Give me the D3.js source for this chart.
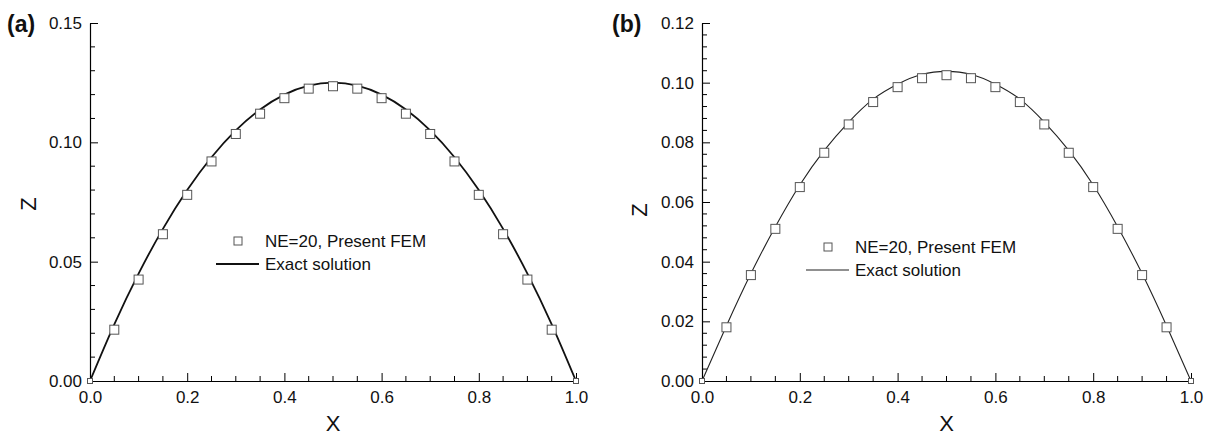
<!DOCTYPE html>
<html>
<head>
<meta charset="utf-8">
<script src="https://cdn.jsdelivr.net/npm/d3@7"></script>
<style>
  html, body { margin: 0; padding: 0; background: #fff; }
  svg { display: block; font-family: Arial, "Liberation Sans", sans-serif; }
</style>
</head>
<body>
<svg id="chart" width="1216" height="436"></svg>
<script>
// Nodal positions (shared by both panels)
const xNodes = [0, 0.05, 0.1, 0.15, 0.2, 0.25, 0.3, 0.35, 0.4, 0.45, 0.5,
                0.55, 0.6, 0.65, 0.7, 0.75, 0.8, 0.85, 0.9, 0.95, 1.0];

// Panel (a): FEM nodal deflection and exact curve
const femA   = [0, 0.0215, 0.0425, 0.0615, 0.0780, 0.0920, 0.1035, 0.1120, 0.1185, 0.1225, 0.1235,
                0.1225, 0.1185, 0.1120, 0.1035, 0.0920, 0.0780, 0.0615, 0.0425, 0.0215, 0];
const exactA = [0, 0.02375, 0.0450, 0.06375, 0.0800, 0.09375, 0.1050, 0.11375, 0.1200, 0.12375, 0.1250,
                0.12375, 0.1200, 0.11375, 0.1050, 0.09375, 0.0800, 0.06375, 0.0450, 0.02375, 0];

// Panel (b): FEM nodal deflection and exact curve
const femB   = [0, 0.0180, 0.0355, 0.0510, 0.0650, 0.0765, 0.0860, 0.0935, 0.0985, 0.1015, 0.1025,
                0.1015, 0.0985, 0.0935, 0.0860, 0.0765, 0.0650, 0.0510, 0.0355, 0.0180, 0];
const exactB = [0, 0.0185, 0.0360, 0.0517, 0.0657, 0.0773, 0.0868, 0.0945, 0.0995, 0.1028, 0.1038,
                0.1028, 0.0995, 0.0945, 0.0868, 0.0773, 0.0657, 0.0517, 0.0360, 0.0185, 0];

// Axis ticks
const xMajorTicks = [0, 0.2, 0.4, 0.6, 0.8, 1.0];
const xTickLabels = ["0.0", "0.2", "0.4", "0.6", "0.8", "1.0"];
const yMajorTicksA = [0, 0.05, 0.10, 0.15];
const yTickLabelsA = ["0.00", "0.05", "0.10", "0.15"];
const yMajorTicksB = [0, 0.02, 0.04, 0.06, 0.08, 0.10, 0.12];
const yTickLabelsB = ["0.00", "0.02", "0.04", "0.06", "0.08", "0.10", "0.12"];

const legendLabels = ["NE=20, Present FEM", "Exact solution"];

const svg = d3.select("#chart");

function panel(cfg) {
  const x = d3.scaleLinear().domain([0, 1]).range([cfg.left, cfg.right]);
  const y = d3.scaleLinear().domain([0, cfg.yMax]).range([cfg.bottom, cfg.top]);
  const g = svg.append("g");

  // minor ticks
  const xMinor = d3.range(0, 1.0001, 0.05).filter(v => !xMajorTicks.some(m => Math.abs(m - v) < 1e-6));
  const yMinor = d3.range(0, cfg.yMax + 1e-9, cfg.yMinorStep).filter(v => !cfg.yMajor.some(m => Math.abs(m - v) < 1e-6));

  // x axis (ticks point inward)
  const xAxis = d3.axisBottom(x).tickValues(xMajorTicks).tickSize(-8).tickSizeOuter(0)
    .tickFormat((d, i) => xTickLabels[i]);
  const gx = g.append("g").attr("transform", `translate(0,${cfg.bottom})`).call(xAxis);
  gx.selectAll("text").attr("dy", "0").attr("y", 22).style("font-size", "17px").attr("fill", "#111");
  gx.append("g").selectAll("line").data(xMinor).join("line")
    .attr("x1", d => x(d)).attr("x2", d => x(d)).attr("y1", 0).attr("y2", -5)
    .attr("stroke", "#000");

  // y axis
  const yAxis = d3.axisLeft(y).tickValues(cfg.yMajor).tickSize(-8).tickSizeOuter(0)
    .tickFormat((d, i) => cfg.yLabels[i]);
  const gy = g.append("g").attr("transform", `translate(${cfg.left},0)`).call(yAxis);
  gy.selectAll("text").attr("x", -8).style("font-size", "17px").attr("fill", "#111");
  gy.append("g").selectAll("line").data(yMinor).join("line")
    .attr("y1", d => y(d)).attr("y2", d => y(d)).attr("x1", 0).attr("x2", 5)
    .attr("stroke", "#000");
  g.selectAll(".domain").attr("stroke", "#000").attr("stroke-width", 1.2);
  g.selectAll(".tick line").attr("stroke", "#000");

  // exact curve
  const line = d3.line().x((d, i) => x(xNodes[i])).y(d => y(d)).curve(d3.curveNatural);
  g.append("path").datum(cfg.exact).attr("d", line)
    .attr("fill", "none").attr("stroke", cfg.lineColor).attr("stroke-width", cfg.lineWidth);

  // FEM markers
  g.selectAll("rect.fem").data(cfg.fem).join("rect").attr("class", "fem")
    .each(function (d, i) {
      const s = (i === 0 || i === cfg.fem.length - 1) ? 5 : 9;
      d3.select(this)
        .attr("x", x(xNodes[i]) - s / 2).attr("y", y(d) - s / 2)
        .attr("width", s).attr("height", s);
    })
    .attr("fill", "#fff").attr("stroke", "#555").attr("stroke-width", 1);

  // axis titles
  g.append("text").attr("x", (cfg.left + cfg.right) / 2).attr("y", cfg.bottom + 50)
    .attr("text-anchor", "middle").style("font-size", "22px").attr("fill", "#111").text("X");
  g.append("text").attr("transform", `translate(${cfg.zx},${cfg.zy}) rotate(-90)`)
    .attr("text-anchor", "middle").style("font-size", "22px").attr("fill", "#111").text("Z");

  // panel label
  g.append("text").attr("x", cfg.tagX).attr("y", 32).style("font-size", "23px")
    .style("font-weight", "bold").attr("fill", "#111").text(cfg.tag);

  // legend
  const lg = g.append("g");
  lg.append("rect").attr("x", cfg.legX + 18).attr("y", cfg.legY - 4).attr("width", 8).attr("height", 8)
    .attr("fill", "#fff").attr("stroke", "#555");
  lg.append("text").attr("x", cfg.legX + 49).attr("y", cfg.legY + 6).style("font-size", "17px")
    .attr("fill", "#111").text(legendLabels[0]);
  lg.append("line").attr("x1", cfg.legX).attr("x2", cfg.legX + 43)
    .attr("y1", cfg.legY + 23).attr("y2", cfg.legY + 23)
    .attr("stroke", cfg.lineColor).attr("stroke-width", cfg.lineWidth);
  lg.append("text").attr("x", cfg.legX + 49).attr("y", cfg.legY + 29).style("font-size", "17px")
    .attr("fill", "#111").text(legendLabels[1]);
}

panel({
  left: 90, right: 576, top: 23, bottom: 381, yMax: 0.15,
  yMajor: yMajorTicksA, yLabels: yTickLabelsA, yMinorStep: 0.01,
  fem: femA, exact: exactA, lineColor: "#111", lineWidth: 1.8,
  tag: "(a)", tagX: 7, zx: 36, zy: 204, legX: 216, legY: 241
});

panel({
  left: 702, right: 1191, top: 23, bottom: 381, yMax: 0.12,
  yMajor: yMajorTicksB, yLabels: yTickLabelsB, yMinorStep: 0.004,
  fem: femB, exact: exactB, lineColor: "#222", lineWidth: 1.1,
  tag: "(b)", tagX: 612, zx: 647, zy: 210, legX: 806, legY: 247
});
</script>
</body>
</html>
